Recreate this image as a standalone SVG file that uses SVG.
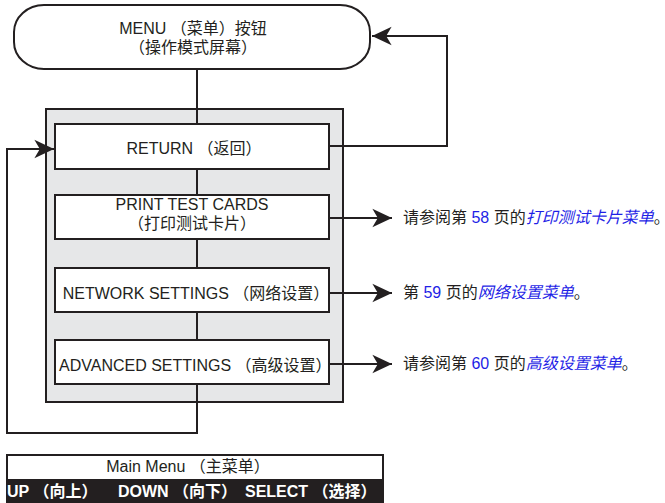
<svg xmlns="http://www.w3.org/2000/svg" width="665" height="503" viewBox="0 0 665 503">
<style>
  text { font-family: "Liberation Sans", "Noto Sans CJK SC", sans-serif; font-size: 16px; fill: #231f20; }
  .box { fill: #ffffff; stroke: #231f20; stroke-width: 2; }
  .panel { fill: #e6e7e8; stroke: #231f20; stroke-width: 2; }
  .conn { fill: none; stroke: #231f20; stroke-width: 2; }
  .c { text-anchor: middle; }
  .blue { fill: #1f1fe6; }
  .it { font-style: italic; }
  .band { fill: #ffffff; font-weight: bold; }
</style>
<defs>
  <marker id="arr" markerUnits="userSpaceOnUse" markerWidth="24" markerHeight="24" viewBox="-20 -10 22 20" refX="0" refY="0" orient="auto">
    <path d="M0,0 L-18,-8.5 L-13,0 L-18,8.5 Z" fill="#231f20"/>
  </marker>
</defs>

<g id="panel">
  <rect class="panel" x="46" y="109" width="297" height="293"/>
</g>

<g id="connectors">
  <line class="conn" x1="197" y1="69" x2="197" y2="124"/>
  <line class="conn" x1="197" y1="169" x2="197" y2="195"/>
  <line class="conn" x1="197" y1="239" x2="197" y2="268"/>
  <line class="conn" x1="197" y1="312" x2="197" y2="340"/>
  <polyline class="conn" points="197,384 197,433 7,433 7,149 54,149" marker-end="url(#arr)"/>
  <polyline class="conn" points="329,146 447,146 447,36 372,36" marker-end="url(#arr)"/>
  <line class="conn" x1="329" y1="218" x2="392" y2="218" marker-end="url(#arr)"/>
  <line class="conn" x1="329" y1="293" x2="392" y2="293" marker-end="url(#arr)"/>
  <line class="conn" x1="329" y1="364" x2="392" y2="364" marker-end="url(#arr)"/>
</g>

<g id="menu-button">
  <rect class="box" x="14" y="5" width="356" height="64" rx="30" ry="27"/>
  <text class="c" x="193" y="34">MENU （菜单）按钮</text>
  <text class="c" x="193" y="53">（操作模式屏幕）</text>
</g>

<g id="return">
  <rect class="box" x="55" y="124" width="274" height="45"/>
  <text class="c" x="194" y="154">RETURN （返回）</text>
</g>

<g id="print-test-cards">
  <rect class="box" x="55" y="195" width="274" height="44"/>
  <text class="c" x="192" y="210">PRINT TEST CARDS</text>
  <text class="c" x="192" y="229">（打印测试卡片）</text>
</g>

<g id="network-settings">
  <rect class="box" x="55" y="268" width="274" height="44"/>
  <text class="c" x="196" y="299">NETWORK SETTINGS （网络设置）</text>
</g>

<g id="advanced-settings">
  <rect class="box" x="55" y="340" width="274" height="44"/>
  <text x="59" y="371">ADVANCED SETTINGS （高级设置）</text>
</g>

<g id="ref-print">
  <text x="403" y="223">请参阅第 <tspan class="blue">58</tspan> 页的<tspan class="blue it">打印测试卡片菜单</tspan>。</text>
</g>
<g id="ref-network">
  <text x="403" y="298">第 <tspan class="blue">59</tspan> 页的<tspan class="blue it">网络设置菜单</tspan>。</text>
</g>
<g id="ref-advanced">
  <text x="403" y="369">请参阅第 <tspan class="blue">60</tspan> 页的<tspan class="blue it">高级设置菜单</tspan>。</text>
</g>

<g id="main-menu-display">
  <rect x="7" y="455" width="376" height="47" fill="#231f20" stroke="#231f20" stroke-width="2"/>
  <rect x="8" y="456" width="374" height="23" fill="#ffffff"/>
  <text class="c" x="188" y="472">Main Menu （主菜单）</text>
  <text class="band" x="7" y="497">UP （向上）</text>
  <text class="band" x="118" y="497">DOWN （向下）</text>
  <text class="band" x="245" y="497">SELECT （选择）</text>
</g>
</svg>
